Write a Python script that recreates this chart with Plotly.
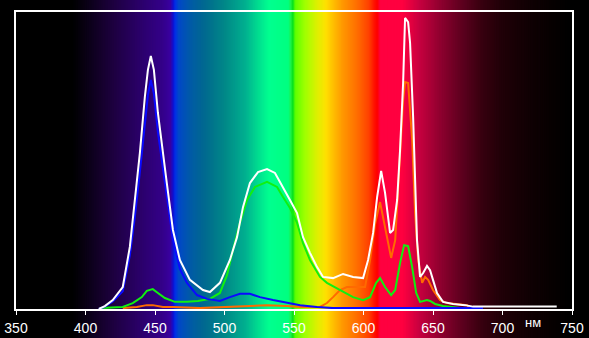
import plotly.graph_objects as go

# ---------------- data ----------------
white_nm = [409.6, 413.9, 419.6, 426.8, 431.9, 435.5, 439.1, 442.7, 444.9, 447.0, 449.2, 452.1, 455.0, 458.5,
            462.9, 467.9, 475.1, 484.5, 489.5, 496.7, 503.9, 509.0, 513.3, 518.3, 524.1, 530.6, 536.3, 542.1,
            547.1, 552.2, 556.5, 561.5, 566.6, 570.9, 578.1, 585.3, 592.5, 599.7, 603.3, 606.9, 609.8, 612.7,
            615.5, 619.1, 621.3, 624.2, 626.3, 628.5, 629.9, 632.1, 633.5, 635.7, 637.1, 638.5, 640.7, 642.9,
            645.7, 647.9, 650.0, 652.9, 657.2, 664.4, 673.1, 678.8, 700.0, 720.0, 739.0]
white_val = [0.0, 1.0, 3.0, 7.4, 20.9, 35.7, 52.5, 71.4, 80.5, 85.2, 80.5, 66.0, 54.5, 42.4,
             26.6, 16.5, 9.8, 6.4, 5.7, 8.8, 16.5, 24.2, 34.3, 42.4, 46.1, 47.1, 45.8, 41.1,
             36.7, 32.3, 24.2, 18.9, 14.1, 10.8, 10.4, 11.8, 10.8, 10.4, 16.5, 25.6, 37.7, 46.5,
             39.1, 25.6, 26.6, 36.7, 53.5, 76.1, 98.0, 96.6, 89.6, 64.6, 42.4, 23.2, 10.8, 12.1,
             14.5, 13.1, 9.8, 5.4, 2.4, 1.7, 1.3, 0.8, 0.8, 0.8, 0.8]

green_nm = [410.3, 426.8, 434.0, 440.5, 444.1, 448.4, 452.1, 457.1, 464.3, 473.0, 480.9, 489.5, 496.7, 501.8,
            506.1, 511.1, 516.2, 521.9, 530.6, 537.8, 542.1, 547.1, 552.2, 556.5, 561.5, 568.7, 573.7, 583.1,
            592.5, 599.7, 604.7, 609.1, 611.9, 615.5, 619.9, 622.8, 626.3, 629.2, 632.1, 635.0, 637.9, 640.7,
            645.7, 647.9, 651.5, 657.2, 662.3, 669.5]
green_val = [0.3, 0.7, 2.0, 4.0, 6.1, 6.7, 5.4, 3.7, 2.4, 2.4, 2.7, 3.4, 5.4, 11.4,
             19.9, 29.0, 36.7, 41.1, 42.8, 41.1, 37.7, 34.0, 29.0, 22.2, 16.5, 10.8, 8.8, 6.4,
             4.0, 3.0, 4.0, 8.8, 10.4, 7.4, 4.7, 6.4, 15.5, 21.5, 21.2, 14.1, 5.4, 2.4,
             3.0, 2.7, 1.7, 1.0, 0.7, 0.3]

blue_nm = [409.6, 413.9, 419.6, 426.8, 431.9, 435.5, 439.1, 442.7, 444.9, 447.0, 449.2, 452.1, 455.0, 458.5,
           462.9, 467.9, 473.0, 480.2, 487.4, 496.7, 503.9, 511.1, 518.3, 525.5, 534.9, 545.0, 554.4, 566.6,
           578.1, 600.0, 640.0, 686.0]
blue_val = [0.0, 0.8, 2.5, 6.0, 18.0, 31.0, 46.0, 63.0, 72.0, 77.1, 72.5, 59.5, 49.0, 38.0,
            23.5, 13.5, 8.8, 4.7, 3.4, 2.7, 4.0, 5.1, 5.1, 4.0, 3.0, 2.0, 1.3, 0.7,
            0.3, 0.3, 0.3, 0.3]

orange_nm = [426.8, 436.9, 444.1, 448.4, 455.7, 462.9, 482.3, 506.1, 530.6, 545.0, 554.4, 568.7, 573.7, 578.1,
             583.1, 588.1, 597.5, 601.1, 604.7, 608.3, 611.9, 615.5, 619.9, 622.8, 625.6, 628.5, 629.9, 632.1,
             635.0, 637.1, 639.3, 642.2, 644.3, 646.5, 650.0, 655.1, 660.1, 667.3, 674.5, 676.7]
orange_val = [0.3, 0.7, 1.3, 1.3, 0.7, 0.7, 0.3, 0.7, 1.3, 1.0, 0.7, 0.7, 2.0, 4.0,
              6.4, 7.4, 7.4, 7.4, 16.5, 28.6, 36.0, 27.9, 17.2, 23.2, 45.8, 70.4, 76.4, 76.1,
              56.9, 32.3, 16.5, 8.8, 10.8, 9.8, 6.4, 3.0, 2.0, 1.7, 1.3, 0.0]

tick_vals = [350, 400, 450, 500, 550, 600, 650, 700, 750]
tick_text = ["350", "400", "450", "500", "550", "600", "650", "700", "750"]
unit_label = "нм"

X_MIN, X_MAX = 350, 750

# spectrum background stops (nm, colour)
spec_nm = [350, 390, 400, 420, 440, 455, 461, 463, 464.5, 467, 475, 485, 500, 515, 525, 532, 546, 548, 549,
           551, 558, 567, 573, 578, 585, 595, 604, 608, 610, 612, 628, 640, 655, 670, 685, 700, 720, 740, 750]
spec_col = ["#000000", "#000000", "#0a0014", "#1e0040", "#2c006c", "#340088", "#3a00a0", "#1010d0", "#0030e8",
            "#0048c8", "#005aa8", "#006890", "#008888", "#00b090", "#00e090", "#00ff90", "#00ff80", "#20f040",
            "#00e020", "#60ff00", "#a0ff00", "#e0f000", "#ffe000", "#ffc000", "#ff9800", "#ff7000", "#ff4000",
            "#ff1000", "#ff0000", "#ff0040", "#ff0040", "#c80040", "#900030", "#600020", "#380010", "#200008",
            "#100004", "#050000", "#000000"]


def hex2rgb(h):
    h = h.lstrip("#")
    return tuple(int(h[i:i + 2], 16) for i in (0, 2, 4))


def spec_color(w):
    for i in range(len(spec_nm) - 1):
        a, b = spec_nm[i], spec_nm[i + 1]
        if a <= w <= b:
            t = (w - a) / (b - a) if b > a else 0
            c0, c1 = hex2rgb(spec_col[i]), hex2rgb(spec_col[i + 1])
            c = [round(c0[k] + (c1[k] - c0[k]) * t) for k in range(3)]
            return "rgb(%d,%d,%d)" % tuple(c)
    return "rgb(0,0,0)"


def to_paper(w):
    return (w - X_MIN) / (X_MAX - X_MIN)


# background strips: each strip overlaps the next so no seams show
shapes = []
step = 0.5
w = float(X_MIN)
while w < X_MAX:
    shapes.append(dict(type="rect", xref="paper", yref="paper", x0=to_paper(w),
                       x1=to_paper(min(w + step + 1.5, X_MAX)),
                       y0=-0.2, y1=1.1, fillcolor=spec_color(w + step / 2), line=dict(width=0),
                       layer="below"))
    w += step

fig = go.Figure()
fig.add_trace(go.Scatter(x=orange_nm, y=orange_val, mode="lines", line=dict(color="#ff6a00", width=2)))
fig.add_trace(go.Scatter(x=green_nm, y=green_val, mode="lines", line=dict(color="#10f010", width=2)))
fig.add_trace(go.Scatter(x=blue_nm, y=blue_val, mode="lines", line=dict(color="#0a0aff", width=2)))
fig.add_trace(go.Scatter(x=white_nm, y=white_val, mode="lines", line=dict(color="#ffffff", width=2)))

fig.update_layout(
    width=589, height=338,
    margin=dict(l=16, r=17, t=12, b=29, autoexpand=False),
    paper_bgcolor="#000000", plot_bgcolor="rgba(0,0,0,0)",
    showlegend=False,
    shapes=shapes,
    font=dict(family="Liberation Sans, Arial", color="#ffffff", size=14),
    xaxis=dict(range=[X_MIN, X_MAX], tickvals=tick_vals, ticktext=tick_text, ticks="outside", ticklen=4,
               tickcolor="#ffffff", tickwidth=1, showline=True, linecolor="#ffffff", linewidth=2, mirror=True,
               showgrid=False, zeroline=False, automargin=False, ticklabelstandoff=1,
               tickfont=dict(size=14, color="#ffffff")),
    yaxis=dict(range=[0, 100], showticklabels=False, ticks="", showline=True, linecolor="#ffffff",
               linewidth=2, mirror=True, showgrid=False, zeroline=False, automargin=False),
    annotations=[dict(x=722, y=-0.044, xref="x", yref="paper", text=unit_label, showarrow=False,
                      font=dict(size=13, color="#ffffff"), xanchor="center", yanchor="middle")],
)

fig.write_html("out.html")
